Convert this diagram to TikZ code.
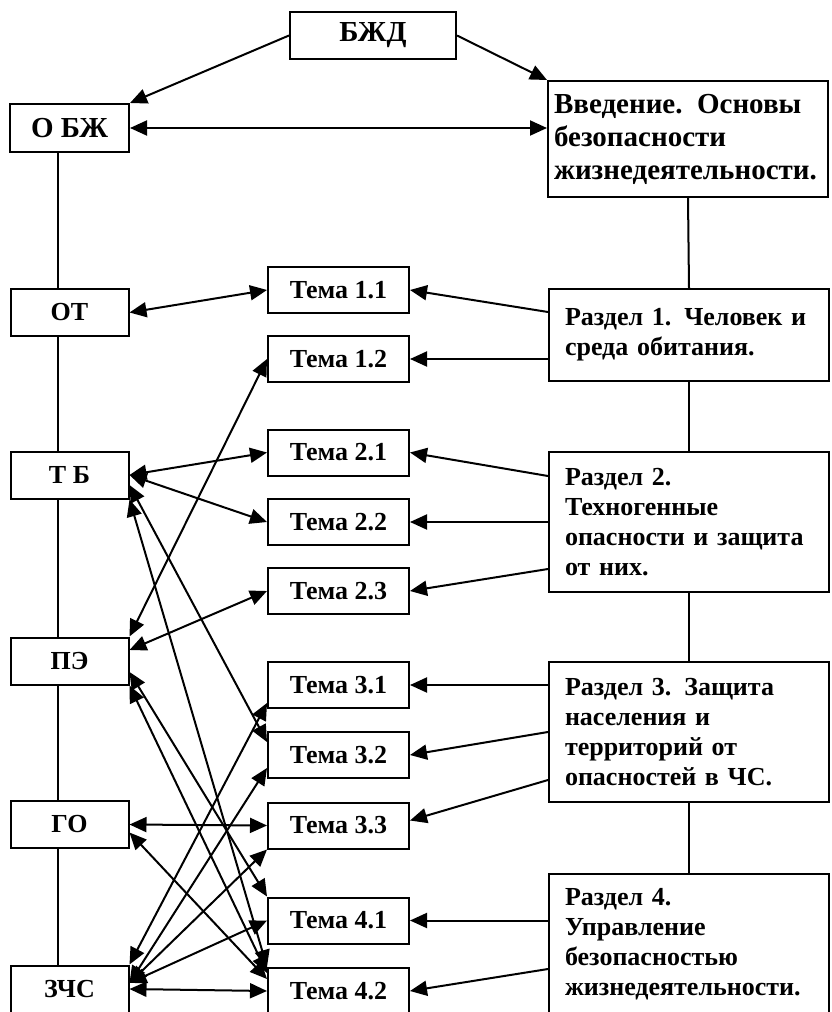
\documentclass[tikz,border=0pt]{standalone}
\usepackage{fontspec}
\setmainfont{Liberation Serif}
\usetikzlibrary{arrows.meta, positioning}

\begin{document}
\begin{tikzpicture}[x=0.5pt, y=-0.5pt, line width=1pt,
    >={Triangle[length=8.5pt,width=7.5pt]},
    box/.style={draw, fill=white, inner sep=0pt, font=\fontsize{13}{15}\selectfont\bfseries},
    bigbox/.style={box, font=\fontsize{14.5}{16.5}\selectfont\bfseries},
    tema/.style={box, minimum width=70.5pt, minimum height=23pt},
    lbox/.style={box, minimum width=59pt, minimum height=23.5pt},
    rbox/.style={box, align=left, text width=124pt, inner xsep=8pt, minimum height=70pt}]
            \useasboundingbox (0,0) rectangle (831,1012);
            \clip (0,0) rectangle (831,1012);

            \node[bigbox, minimum width=83pt, minimum height=23.5pt] (bzhd) at (373,35.5) {БЖД};
            \node[bigbox, minimum width=59.5pt, minimum height=24pt] (obzh) at (69.5,128) {О БЖ};
            \node[bigbox, align=left, text width=134pt, inner xsep=3pt, minimum height=58pt] (vved) at (688,139)
                {Введение. Основы\\безопасности\\жизнедеятельности.};

            \node[lbox] (ot) [below of=obzh, node distance=92.25pt] {ОТ};
            \node[lbox] (tb) [below of=ot, node distance=81.25pt] {Т Б};
            \node[lbox] (pe) [below of=tb, node distance=93pt] {ПЭ};
            \node[lbox] (go) [below of=pe, node distance=81.75pt] {ГО};
            \node[lbox] (zchs) [below of=go, node distance=82.25pt] {ЗЧС};

            \node[tema] (t11) at (338.5,290) {Тема 1.1};
            \node[tema] (t12) [below of=t11, node distance=34.5pt] {Тема 1.2};
            \node[tema] (t21) [below of=t12, node distance=46.75pt] {Тема 2.1};
            \node[tema] (t22) [below of=t21, node distance=34.75pt] {Тема 2.2};
            \node[tema] (t23) [below of=t22, node distance=34.5pt] {Тема 2.3};
            \node[tema] (t31) [below of=t23, node distance=47pt] {Тема 3.1};
            \node[tema] (t32) [below of=t31, node distance=35pt] {Тема 3.2};
            \node[tema] (t33) [below of=t32, node distance=35.25pt] {Тема 3.3};
            \node[tema] (t41) [below of=t33, node distance=47.5pt] {Тема 4.1};
            \node[tema] (t42) [below of=t41, node distance=35.25pt] {Тема 4.2};

            \node[rbox, minimum height=46pt] (r1) at (689,335) {Раздел 1. Человек и\\среда обитания.};
            \node[rbox] (r2) at (689,522) {Раздел 2.\\Техногенные\\опасности и защита\\от них.};
            \node[rbox] (r3) at (689,732) {Раздел 3. Защита\\населения и\\территорий от\\опасностей в ЧС.};
            \node[rbox] (r4) at (689,944) {Раздел 4.\\Управление\\безопасностью\\жизнедеятельности.};

            \draw[->] (bzhd.west) -- (obzh.north east);
            \draw[->] (bzhd.east) -- (vved.north west);
            \draw[<->] (obzh.east) -- (obzh.east -| vved.west);

            \draw ([xshift=-6pt]obzh.south) -- ([xshift=-6pt]ot.north);
            \draw ([xshift=-6pt]ot.south) -- ([xshift=-6pt]tb.north);
            \draw ([xshift=-6pt]tb.south) -- ([xshift=-6pt]pe.north);
            \draw ([xshift=-6pt]pe.south) -- ([xshift=-6pt]go.north);
            \draw ([xshift=-6pt]go.south) -- ([xshift=-6pt]zchs.north);
            \draw (vved.south) -- (r1.north);
            \draw (r1.south) -- (r2.north);
            \draw (r2.south) -- (r3.north);
            \draw (r3.south) -- (r4.north);

            \draw[->] ([yshift=11.5pt]r1.west) -- (t11.east);
            \draw[->] (t12.east -| r1.west) -- (t12.east);
            \draw[->] ([yshift=23pt]r2.west) -- (t21.east);
            \draw[->] (t22.east -| r2.west) -- (t22.east);
            \draw[->] ([yshift=-23.5pt]r2.west) -- (t23.east);
            \draw[->] (t31.east -| r3.west) -- (t31.east);
            \draw[->] (r3.west) -- (t32.east);
            \draw[->] ([yshift=-24pt]r3.west) -- ([yshift=2.5pt]t33.east);
            \draw[->] (t41.east -| r4.west) -- (t41.east);
            \draw[->] ([yshift=-12.5pt]r4.west) -- (t42.east);

            \draw[<->] (ot.east) -- (t11.west);
            \draw[<->] (t12.west) -- (pe.north east);
            \draw[<->] (tb.east) -- (t21.west);
            \draw[<->] (tb.east) -- (t22.west);
            \draw[<->] (t23.west) -- ([yshift=5.5pt]pe.east);
            \draw[<->] ([yshift=-5pt]tb.east) -- ([yshift=-5.5pt]t32.north west);
            \draw[<->] (tb.south east) -- (t42.north west);
            \draw[<->] ([yshift=-5.5pt]pe.east) -- (t41.north west);
            \draw[<->] (pe.south east) -- ([yshift=-3pt]t42.north west);
            \draw[<->] (go.east) -- (t33.west);
            \draw[<->] ([yshift=-4pt]go.east) -- ([yshift=-6pt]t42.north west);
            \draw[<->] (zchs.north east) -- ([yshift=3pt]t31.south west);
            \draw[<->] ([yshift=3pt]zchs.east) -- ([yshift=5.5pt]t32.south west);
            \draw[<->] ([yshift=3pt]zchs.east) -- (t33.south west);
            \draw[<->] ([yshift=3pt]zchs.east) -- (t41.west);
            \draw[<->] (zchs.east) -- (t42.west);
        \end{tikzpicture}
\end{document}
